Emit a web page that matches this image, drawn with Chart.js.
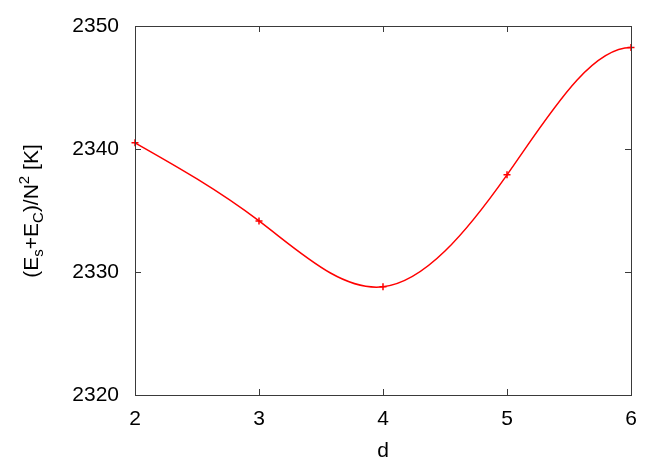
<!DOCTYPE html>
<html>
<head>
<meta charset="utf-8">
<script src="https://cdn.jsdelivr.net/npm/chart.js@4"></script>
<style>
  html, body { margin: 0; padding: 0; background: #fff; }
  #wrap { width: 664px; height: 465px; }
</style>
</head>
<body>
<div id="wrap"><canvas id="myChart" width="664" height="465"></canvas></div>
<script>
// values
const dValues = [2, 3, 4, 5, 6];
const energyValues = [2340.5, 2334.15, 2328.8, 2337.9, 2348.25];
const xTicks = [2, 3, 4, 5, 6];
const yTicks = [2320, 2330, 2340, 2350];

const FONT = "'Liberation Sans', Arial, sans-serif";
const frameColor = "#3a3a3a";

// slopes of a cubic spline through the data (natural at the left end, flat at the right end)
function splineSlopes(xs, ys) {
	const n = xs.length;
	const A = [];
	const b = [];
	for (let i = 0; i < n; i++) {
		A.push(new Array(n).fill(0));
		b.push(0);
	}
	const h = (i) => xs[i + 1] - xs[i];
	const del = (i) => (ys[i + 1] - ys[i]) / h(i);
	A[0][0] = 2; A[0][1] = 1; b[0] = 3 * del(0);
	for (let i = 1; i < n - 1; i++) {
		A[i][i - 1] = h(i);
		A[i][i] = 2 * (h(i - 1) + h(i));
		A[i][i + 1] = h(i - 1);
		b[i] = 3 * (h(i) * del(i - 1) + h(i - 1) * del(i));
	}
	A[n - 1][n - 1] = 1; b[n - 1] = 0;
	// gaussian elimination
	for (let c = 0; c < n; c++) {
		for (let r = c + 1; r < n; r++) {
			const f = A[r][c] / A[c][c];
			if (!f) continue;
			for (let k = c; k < n; k++) A[r][k] -= f * A[c][k];
			b[r] -= f * b[c];
		}
	}
	const s = new Array(n).fill(0);
	for (let r = n - 1; r >= 0; r--) {
		let v = b[r];
		for (let k = r + 1; k < n; k++) v -= A[r][k] * s[k];
		s[r] = v / A[r][r];
	}
	return s;
}

// replace chart.js control points with the spline ones
const splinePlugin = {
	id: "spline",
	beforeDatasetDraw(chart, args) {
		const meta = chart.getDatasetMeta(args.index);
		const line = meta.dataset;
		line.updateControlPoints(chart.chartArea, "x");
		const sx = chart.scales.x;
		const sy = chart.scales.y;
		const s = splineSlopes(dValues, energyValues);
		const pts = meta.data;
		for (let i = 0; i < pts.length; i++) {
			const hPrev = i > 0 ? dValues[i] - dValues[i - 1] : 0;
			const hNext = i < pts.length - 1 ? dValues[i + 1] - dValues[i] : 0;
			pts[i].cp1x = sx.getPixelForValue(dValues[i] - hPrev / 3);
			pts[i].cp1y = sy.getPixelForValue(energyValues[i] - (s[i] * hPrev) / 3);
			pts[i].cp2x = sx.getPixelForValue(dValues[i] + hNext / 3);
			pts[i].cp2y = sy.getPixelForValue(energyValues[i] + (s[i] * hNext) / 3);
		}
		line._path = undefined;
	},
};

// gnuplot style box with inward (mirrored) ticks
const framePlugin = {
	id: "frame",
	afterDraw(chart) {
		const { ctx, chartArea: a, scales } = chart;
		ctx.save();
		ctx.strokeStyle = frameColor;
		ctx.lineWidth = 1;
		ctx.beginPath();
		xTicks.forEach((v) => {
			const px = Math.round(scales.x.getPixelForValue(v)) + 0.5;
			ctx.moveTo(px, a.bottom);
			ctx.lineTo(px, a.bottom - 6);
			ctx.moveTo(px, a.top);
			ctx.lineTo(px, a.top + 6);
		});
		yTicks.forEach((v) => {
			const py = Math.round(scales.y.getPixelForValue(v)) + 0.5;
			ctx.moveTo(a.left, py);
			ctx.lineTo(a.left + 6, py);
			ctx.moveTo(a.right, py);
			ctx.lineTo(a.right - 6, py);
		});
		ctx.stroke();
		ctx.strokeRect(Math.round(a.left) + 0.5, Math.round(a.top) + 0.5,
			Math.round(a.right - a.left), Math.round(a.bottom - a.top));
		ctx.restore();
	},
};

// y axis title with sub- and superscripts
const yTitlePlugin = {
	id: "yTitle",
	afterDraw(chart) {
		const ctx = chart.ctx;
		const parts = [
			{ t: "(E", s: 0 },
			{ t: "s", s: 1 },
			{ t: "+E", s: 0 },
			{ t: "C", s: 1 },
			{ t: ")/N", s: 0 },
			{ t: "2", s: -1 },
			{ t: " [K]", s: 0 },
		];
		const big = "21px " + FONT;
		const small = "15px " + FONT;
		ctx.save();
		let total = 0;
		parts.forEach((p) => {
			ctx.font = p.s ? small : big;
			p.w = ctx.measureText(p.t).width;
			total += p.w;
		});
		ctx.translate(38, 211);
		ctx.rotate(-Math.PI / 2);
		ctx.fillStyle = "#000";
		ctx.textBaseline = "alphabetic";
		let x = -total / 2;
		parts.forEach((p) => {
			ctx.font = p.s ? small : big;
			const dy = p.s === 1 ? 5 : p.s === -1 ? -9 : 0;
			ctx.fillText(p.t, x, dy);
			x += p.w;
		});
		ctx.restore();
	},
};

const ctx = document.getElementById("myChart");

new Chart(ctx, {
	type: "line",
	data: {
		datasets: [
			{
				data: dValues.map((d, i) => ({ x: d, y: energyValues[i] })),
				borderColor: "#ff0000",
				borderWidth: 1.5,
				tension: 0.4,
				pointStyle: "cross",
				pointRadius: 3.5,
				pointBorderColor: "#ff0000",
				pointBorderWidth: 1.5,
				fill: false,
				clip: false,
			},
		],
	},
	options: {
		responsive: false,
		animation: false,
		layout: { padding: { top: 26, right: 33, left: 0, bottom: 0 } },
		plugins: { legend: { display: false }, tooltip: { enabled: false } },
		scales: {
			x: {
				type: "linear",
				min: 2,
				max: 6,
				afterBuildTicks: (s) => { s.ticks = xTicks.map((v) => ({ value: v })); },
				afterFit: (s) => { s.height = 70; },
				grid: { display: false },
				border: { display: false },
				ticks: {
					color: "#000",
					padding: 4,
					maxRotation: 0,
					font: { family: FONT, size: 21 },
					callback: (v) => String(v),
				},
				title: {
					display: true,
					text: "d",
					color: "#000",
					font: { family: FONT, size: 21 },
					padding: { top: 0, bottom: 1 },
				},
			},
			y: {
				min: 2320,
				max: 2350,
				afterBuildTicks: (s) => { s.ticks = yTicks.map((v) => ({ value: v })); },
				afterFit: (s) => { s.width = 135; },
				grid: { display: false },
				border: { display: false },
				ticks: {
					color: "#000",
					padding: 8,
					font: { family: FONT, size: 21 },
					callback: (v) => String(v),
				},
			},
		},
	},
	plugins: [splinePlugin, framePlugin, yTitlePlugin],
});
</script>
</body>
</html>
